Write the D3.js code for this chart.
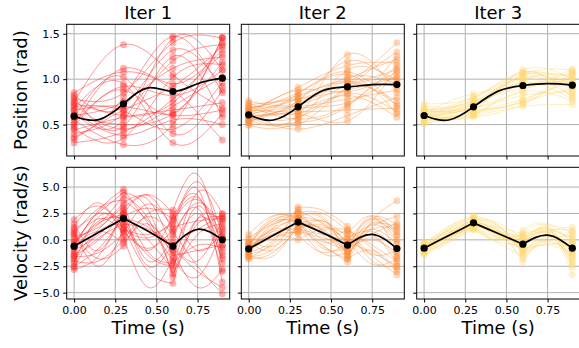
<!DOCTYPE html>
<html>
<head>
<meta charset="utf-8">
<script src="https://cdn.jsdelivr.net/npm/d3@7"></script>
<style>
  body { margin: 0; background: #fff; }
  svg { font-family: "DejaVu Sans", sans-serif; }
</style>
</head>
<body>
<div id="chart"></div>
<script>
// knot times and the times of the hand-read mean/velocity points
const knotTimes = [0, 0.3, 0.6, 0.9];
const midTimes = [0, 0.15, 0.3, 0.45, 0.6, 0.75, 0.9];
const iterTitles = ['Iter 1', 'Iter 2', 'Iter 3'];
const iterColors = ['#ff1f1f', '#fd8d3c', '#fed976'];
const xTicks = [0, 0.25, 0.5, 0.75];
const posTicks = [0.5, 1.0, 1.5];
const velTicks = [-5, -2.5, 0, 2.5, 5];

// mean trajectories (black), read at midTimes
const posMean = [
    [0.592, 0.555, 0.728, 0.905, 0.864, 0.950, 1.011],
    [0.607, 0.550, 0.695, 0.875, 0.915, 0.940, 0.940],
    [0.600, 0.550, 0.695, 0.868, 0.930, 0.950, 0.934]
];
const velMean = [
    [-0.60, 0.72, 2.03, 0.82, -0.60, 1.00, 0.00],
    [-0.85, 0.44, 1.68, 0.66, -0.50, 0.52, -0.82],
    [-0.79, 0.41, 1.61, 0.60, -0.41, 0.44, -0.79]
];

// sampled positions at knotTimes
const posSamples1 = [
    [0.62, 0.55, 1.45, 1.10], [0.48, 0.88, 0.62, 1.46], [0.75, 1.38, 1.05, 0.68], [0.30, 0.42, 0.78, 1.28],
    [0.82, 0.70, 1.32, 0.92], [0.55, 0.28, 0.50, 1.46], [0.68, 0.95, 0.30, 0.62], [0.40, 0.62, 1.20, 1.38],
    [0.85, 1.08, 0.88, 0.33], [0.58, 0.50, 0.62, 1.18], [0.36, 0.80, 1.47, 0.85], [0.72, 0.45, 0.70, 1.02],
    [0.50, 1.12, 0.95, 1.32], [0.65, 0.38, 0.55, 0.50], [0.78, 0.85, 1.40, 1.45], [0.44, 0.58, 0.66, 0.74],
    [0.60, 0.75, 1.12, 1.24], [0.70, 0.65, 0.45, 0.96], [0.52, 0.92, 0.82, 1.10], [0.66, 0.70, 0.60, 0.66],
    [0.80, 0.48, 1.25, 0.58], [0.34, 0.66, 0.92, 1.36], [0.58, 1.02, 0.40, 0.88], [0.46, 0.35, 1.02, 1.16],
    [0.74, 0.60, 0.74, 1.40]
];
const posSamples2 = [
    [0.62, 0.72, 0.95, 1.40], [0.55, 0.60, 1.27, 0.85], [0.68, 0.85, 1.05, 0.62], [0.50, 0.52, 0.70, 1.25],
    [0.72, 0.78, 0.88, 1.02], [0.58, 0.45, 0.60, 0.80], [0.65, 0.91, 1.15, 1.18], [0.60, 0.66, 0.82, 0.58],
    [0.76, 0.74, 1.02, 0.95], [0.53, 0.62, 0.54, 1.12], [0.64, 0.80, 0.98, 0.72], [0.57, 0.58, 0.92, 1.30],
    [0.70, 0.70, 0.78, 0.88], [0.49, 0.55, 1.10, 0.98], [0.61, 0.88, 0.86, 1.08], [0.66, 0.64, 0.66, 0.68],
    [0.59, 0.76, 1.20, 0.92], [0.54, 0.68, 0.74, 1.05], [0.67, 0.82, 0.96, 0.76], [0.63, 0.50, 0.90, 1.00],
    [0.52, 0.84, 1.08, 0.70], [0.70, 0.56, 0.72, 1.15], [0.56, 0.72, 1.00, 1.22], [0.74, 0.62, 0.84, 0.64],
    [0.60, 0.78, 0.94, 1.10]
];
const posSamples3 = [
    [0.60, 0.70, 1.05, 1.10], [0.55, 0.62, 0.75, 0.90], [0.66, 0.78, 1.08, 0.85], [0.52, 0.58, 0.72, 1.05],
    [0.70, 0.74, 0.96, 0.78], [0.58, 0.66, 1.10, 1.00], [0.63, 0.84, 0.92, 1.08], [0.54, 0.60, 0.70, 0.72],
    [0.68, 0.72, 1.02, 0.95], [0.57, 0.68, 0.88, 1.11], [0.73, 0.80, 1.06, 0.88], [0.51, 0.64, 0.78, 0.98],
    [0.62, 0.76, 1.00, 0.82], [0.59, 0.66, 0.74, 1.06], [0.65, 0.70, 0.98, 0.92], [0.56, 0.62, 0.86, 0.76],
    [0.61, 0.74, 1.04, 1.02], [0.64, 0.68, 0.82, 0.86], [0.58, 0.72, 0.94, 0.96], [0.60, 0.66, 1.06, 0.94],
    [0.62, 0.80, 1.02, 0.92], [0.54, 0.64, 0.76, 1.08], [0.67, 0.70, 1.08, 0.80], [0.59, 0.76, 0.90, 1.00],
    [0.63, 0.60, 0.98, 1.04]
];

// sampled velocities at midTimes (knots at even indices)
const velSamples1 = [
    [-0.5, 2.8, 4.8, 1.5, -2.0, 4.5, 2.5], [1.9, 3.2, 1.2, -3.0, -4.1, 2.0, 1.8],
    [-2.8, -1.5, 2.5, 4.2, 0.8, -2.5, -5.1], [0.5, -1.8, -0.6, 2.5, 2.8, 6.2, -1.2],
    [-1.5, 1.0, 3.5, 3.8, -1.0, -4.5, -2.8], [-2.2, 2.2, 1.8, -1.5, -2.5, 1.5, 2.2],
    [0.8, -2.5, 1.0, 0.5, 1.5, 5.5, 0.5], [-1.0, 0.5, 2.8, -2.0, 0.2, 3.0, -3.0],
    [1.2, 3.5, 0.3, -4.5, -1.8, -3.5, 1.0], [-2.5, -0.8, 2.2, 3.0, 2.0, 4.0, -0.5],
    [0.0, 1.5, 4.2, 2.0, -3.2, 0.5, 1.5], [-1.8, 0.2, 1.5, 1.0, -0.5, -2.0, 2.0],
    [-0.2, 2.0, 0.8, -0.8, 1.0, 4.8, -4.0], [1.5, -1.0, 3.0, 4.3, 2.5, -1.0, 0.8],
    [-1.2, 1.8, 2.0, 1.2, -1.2, 2.5, -1.8], [-2.0, -2.0, 0.0, 2.2, 0.5, 3.5, 1.2],
    [0.3, 1.2, 3.2, -1.2, -2.2, -0.5, -0.8], [-0.8, 2.5, 1.0, 0.2, 1.8, 3.8, 0.3],
    [-1.4, 0.0, 2.6, -2.5, -0.3, 1.0, 2.4], [-0.6, 0.8, -0.3, 1.5, -1.5, -1.0, -0.5],
    [1.0, 2.6, 4.5, 2.8, -3.5, 2.0, 0.2], [-2.6, 0.8, 1.5, -1.0, 2.2, 4.2, -2.2],
    [0.6, 3.0, 3.8, 1.8, -0.8, -3.0, -4.5], [-1.6, -1.2, 0.6, 3.4, 1.2, 1.8, 2.0],
    [-0.3, 1.6, 2.4, 0.0, -2.8, 3.2, -1.5]
];
const velSamples2 = [
    [-0.5, 1.8, 2.6, 2.5, 0.8, -1.5, -3.3], [-1.8, -1.2, 1.2, -0.5, -2.1, 1.8, 3.7],
    [0.5, 2.3, 2.0, 0.0, -1.0, 2.2, -1.5], [-1.2, 0.0, 3.1, 2.8, 1.3, -2.0, -2.5],
    [-0.8, 1.0, 0.5, -1.2, -0.3, 1.5, 1.2], [-1.5, -1.5, 1.5, 1.8, 0.2, 0.8, -0.8],
    [0.2, 1.5, 2.2, 0.8, -1.8, -1.0, -2.8], [-1.0, 0.4, 0.0, 1.0, 0.6, 2.3, 0.5],
    [-0.6, 2.0, 1.8, -0.8, -0.8, 0.0, -1.2], [-1.6, -0.8, 2.4, 2.0, -1.4, 1.2, 2.2],
    [-0.3, 0.8, 1.0, 0.5, 0.0, -2.3, -1.8], [-1.1, 1.2, 2.8, 1.5, -0.6, 1.0, -0.4],
    [0.0, -0.6, 1.4, -1.3, -1.2, 1.9, 0.8], [-1.3, 1.6, 1.7, 1.2, 1.0, -0.5, -2.0],
    [-0.9, 0.2, 0.8, 0.2, -0.4, 0.6, 1.6], [-0.4, 2.2, 2.1, 2.2, -1.6, 1.4, -0.2],
    [-1.4, -0.4, 1.9, -0.2, 0.4, -1.4, -1.0], [-0.7, 0.6, 1.1, 1.4, -0.2, 2.0, 0.0],
    [-1.0, 1.4, 2.5, 0.4, -0.9, 0.4, -2.2], [-0.2, -1.0, 1.3, 1.0, -1.5, 1.0, 1.0],
    [-1.2, 0.9, 2.2, 1.6, -0.2, -1.2, -2.5], [-0.4, 1.8, 1.6, -0.6, -1.8, 1.6, 0.4],
    [-1.7, -0.2, 2.9, 0.6, 0.9, -0.8, -3.0], [-0.6, 0.5, 0.7, 1.8, -0.6, 2.1, 1.4],
    [-1.1, 1.1, 1.9, 0.9, -1.1, 0.2, -1.6]
];
const velSamples3 = [
    [-0.8, 0.4, 1.6, 0.6, -0.4, 0.4, -0.8], [-0.3, 1.2, 2.3, 1.4, -1.2, -0.2, 0.8],
    [-1.2, -0.2, 1.0, 0.0, 0.9, 1.4, -2.2], [-0.6, 0.9, 1.9, 1.0, -2.1, 0.6, 1.2],
    [-1.0, 0.1, 1.3, 0.8, 0.3, 1.0, -1.6], [-0.5, 0.7, 2.0, 0.2, -0.8, -0.4, -0.2],
    [-1.4, -0.3, 1.4, 1.2, 0.5, 1.2, -3.3], [-0.7, 0.5, 1.2, -0.3, -1.5, 0.0, 0.4],
    [-0.9, 1.0, 2.1, 1.6, 0.0, 0.8, -1.0], [-0.4, 0.2, 1.5, 0.4, -0.6, 1.5, -0.5],
    [-1.1, 0.6, 1.8, 0.9, -1.0, -0.5, -1.3], [-0.2, 0.8, 1.1, 0.1, 0.6, 0.9, 0.2],
    [-0.8, 0.3, 1.7, 1.1, -0.2, 1.1, -2.6], [-1.3, 0.0, 1.6, 0.5, -1.8, 0.2, -0.4],
    [-0.6, 1.3, 2.2, 0.7, 0.2, 0.6, -1.8], [-1.0, 0.4, 0.9, -0.2, -0.5, 1.3, 0.6],
    [-0.7, 0.6, 1.9, 1.3, -1.2, 0.3, -1.1], [-1.2, -0.1, 1.2, 0.3, 0.4, -0.3, -0.6],
    [-0.5, 0.9, 1.8, 0.8, -0.9, 0.7, -2.0], [-0.9, 0.2, 1.4, 0.6, -0.3, 1.0, 0.0],
    [-0.6, 0.7, 1.7, 0.9, -0.7, 0.8, -1.2], [-1.1, 0.1, 1.3, 0.2, 0.2, 1.1, -0.3],
    [-0.8, 1.1, 2.0, 1.3, -1.4, 0.5, -2.4], [-0.4, 0.3, 1.5, 0.5, -0.1, 0.9, 0.9],
    [-1.2, 0.5, 1.6, 0.7, -1.0, -0.1, -1.4]
];

const posSamples = [posSamples1, posSamples2, posSamples3];
const velSamples = [velSamples1, velSamples2, velSamples3];

const width = 579, height = 348;
const colLeft = [66.7, 241.3, 416.7];
const rowTop = [24.3, 167.3];
const panelW = 163, panelH = 131.7;

const svg = d3.select('#chart').append('svg')
    .attr('width', width)
    .attr('height', height);

const defs = svg.append('defs');

const xScale = d3.scaleLinear().domain([-0.045, 0.945]).range([0, panelW]);
const yPos = d3.scaleLinear().domain([0.154, 1.604]).range([panelH, 0]);
const yVel = d3.scaleLinear().domain([-5.6, 6.87]).range([panelH, 0]);

// one panel; velocity rows are drawn piecewise between knots
function drawPanel(col, row, yScale, yTicks, yFmt, samples, sampleTimes, mean, color) {
    const g = svg.append('g')
        .attr('transform', `translate(${colLeft[col]},${rowTop[row]})`);
    const clipId = `clip-${row}-${col}`;
    defs.append('clipPath').attr('id', clipId)
        .append('rect').attr('width', panelW).attr('height', panelH);

    // grid
    g.append('g').selectAll('line').data(xTicks).join('line')
        .attr('x1', d => xScale(d)).attr('x2', d => xScale(d))
        .attr('y1', 0).attr('y2', panelH)
        .attr('stroke', '#b0b0b0').attr('stroke-width', 1);
    g.append('g').selectAll('line').data(yTicks).join('line')
        .attr('y1', d => yScale(d)).attr('y2', d => yScale(d))
        .attr('x1', 0).attr('x2', panelW)
        .attr('stroke', '#b0b0b0').attr('stroke-width', 1);

    const plot = g.append('g').attr('clip-path', `url(#${clipId})`);
    const segmented = sampleTimes.length > 4;

    const line = d3.line()
        .x(d => xScale(d[0]))
        .y(d => yScale(d[1]))
        .curve(d3.curveNatural);

    const pathFor = (vals, times, seg) => {
        const pts = times.map((t, i) => [t, vals[i]]);
        if (!seg) return line(pts);
        return [0, 1, 2].map(s => line(pts.slice(2 * s, 2 * s + 3))).join('');
    };

    // samples
    samples.forEach(vals => {
        plot.append('path')
            .attr('d', pathFor(vals, sampleTimes, segmented))
            .attr('fill', 'none')
            .attr('stroke', color)
            .attr('stroke-opacity', 0.45)
            .attr('stroke-width', 1);
    });
    samples.forEach(vals => {
        const knots = segmented ? vals.filter((v, i) => i % 2 === 0) : vals;
        plot.append('g').selectAll('circle').data(knots).join('circle')
            .attr('cx', (d, i) => xScale(knotTimes[i]))
            .attr('cy', d => yScale(d))
            .attr('r', 3.5)
            .attr('fill', color)
            .attr('fill-opacity', 0.35);
    });

    // mean
    plot.append('path')
        .attr('d', pathFor(mean, midTimes, segmented))
        .attr('fill', 'none')
        .attr('stroke', '#000')
        .attr('stroke-width', 1.7);
    plot.append('g').selectAll('circle')
        .data(mean.filter((v, i) => i % 2 === 0)).join('circle')
        .attr('cx', (d, i) => xScale(knotTimes[i]))
        .attr('cy', d => yScale(d))
        .attr('r', 3.6)
        .attr('fill', '#000');

    // axes
    const xAxis = d3.axisBottom(xScale).tickValues(xTicks).tickSize(3.5).tickPadding(3.5)
        .tickFormat(row === 1 ? d3.format('.2f') : '');
    const yAxis = d3.axisLeft(yScale).tickValues(yTicks).tickSize(3.5).tickPadding(3.5)
        .tickFormat(col === 0 ? d3.format(yFmt) : '');
    const xa = g.append('g').attr('transform', `translate(0,${panelH})`).call(xAxis);
    const ya = g.append('g').call(yAxis);
    [xa, ya].forEach(a => {
        a.select('.domain').remove();
        a.selectAll('text').attr('font-size', 11).attr('font-family', '"DejaVu Sans", sans-serif').attr('fill', '#000');
        a.selectAll('line').attr('stroke', '#000');
    });

    g.append('rect')
        .attr('width', panelW).attr('height', panelH)
        .attr('fill', 'none').attr('stroke', '#000').attr('stroke-width', 1);

    if (row === 0) {
        g.append('text')
            .attr('x', panelW / 2).attr('y', -5)
            .attr('text-anchor', 'middle')
            .attr('font-size', 18)
            .text(iterTitles[col]);
    } else {
        g.append('text')
            .attr('x', panelW / 2).attr('y', panelH + 35)
            .attr('text-anchor', 'middle')
            .attr('font-size', 18)
            .text('Time (s)');
    }
}

for (let c = 0; c < 3; c++) {
    drawPanel(c, 0, yPos, posTicks, '.1f', posSamples[c], knotTimes, posMean[c], iterColors[c]);
    drawPanel(c, 1, yVel, velTicks, '.1f', velSamples[c], midTimes, velMean[c], iterColors[c]);
}

// y axis labels
svg.append('text')
    .attr('transform', `translate(27,${rowTop[0] + panelH / 2}) rotate(-90)`)
    .attr('text-anchor', 'middle')
    .attr('font-size', 18)
    .text('Position (rad)');
svg.append('text')
    .attr('transform', `translate(27,${rowTop[1] + panelH / 2}) rotate(-90)`)
    .attr('text-anchor', 'middle')
    .attr('font-size', 18)
    .text('Velocity (rad/s)');
</script>
</body>
</html>
